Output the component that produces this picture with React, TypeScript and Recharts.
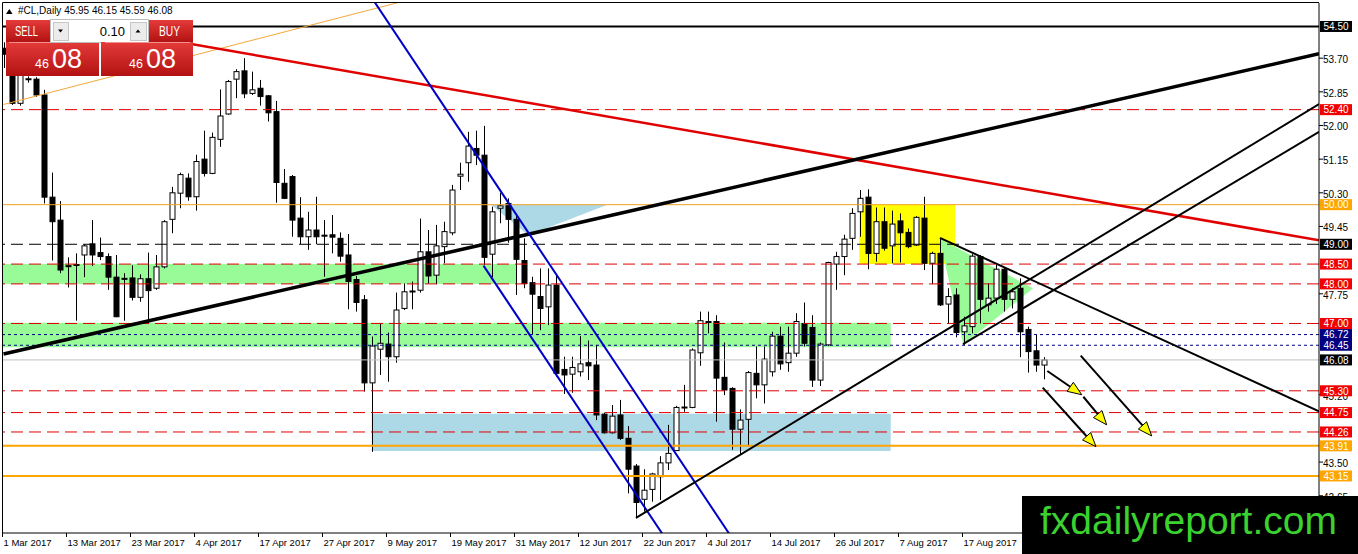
import React from 'react';
import { ComposedChart, Bar, XAxis, YAxis, ReferenceLine, ReferenceArea } from 'recharts';

const FONT = '"Liberation Sans", Arial, sans-serif';

// ---- daily candles, bar index 0 = 1 Mar 2017 ----
const OPEN = [
  53.95, 53.6, 52.56, 53.17, 53.17, 52.77, 50.19, 49.61, 48.44, 48.47,
  48.73, 49.01, 48.79, 48.69, 48.17, 48.14, 48.15, 47.66, 48.13, 47.89,
  48.43, 49.63, 50.29, 50.67, 50.2, 51.15, 50.79, 51.65, 52.29, 53.17,
  53.38, 52.81, 52.94, 52.75, 52.35, 50.54, 50.71, 49.66, 49.19, 49.36,
  49.23, 49.24, 49.15, 48.73, 48.11, 47.6, 45.5, 46.35, 46.48, 46.16,
  47.38, 47.8, 47.84, 48.81, 48.22, 48.94, 49.29, 50.72, 51.06, 51.42,
  51.25, 48.75, 49.91, 50.03, 49.63, 48.59, 48.03, 47.68, 47.42, 47.97,
  45.84, 45.72, 45.78, 46.01, 45.95, 44.71, 44.24, 44.69, 44.1, 43.4,
  42.56, 42.81, 43.13, 43.48, 43.79, 44.88, 44.88, 46.26, 47.04, 47.05,
  45.64, 45.36, 44.33, 44.58, 45.74, 45.45, 45.78, 46.68, 46.01, 46.25,
  47.0, 46.9, 45.57, 46.46, 48.5, 48.69, 49.15, 49.82, 50.19, 48.77,
  49.57, 48.96, 49.59, 49.3, 48.98, 49.66, 48.52, 48.77, 47.49, 47.72,
  46.79, 46.92, 48.69, 47.47, 47.64, 48.37, 47.61, 47.89, 46.85, 46.31,
  45.95,
];
const HIGH = [
  54.1, 53.75, 53.4, 53.24, 53.22, 52.9, 50.81, 50.09, 48.67, 48.77,
  49.0, 49.61, 49.17, 48.77, 48.73, 48.27, 48.47, 48.24, 48.79, 48.73,
  49.61, 50.45, 50.81, 50.79, 51.26, 51.87, 51.82, 52.91, 53.15, 53.42,
  53.7, 53.36, 53.15, 52.77, 52.62, 50.9, 50.75, 50.19, 49.82, 50.2,
  49.61, 49.74, 49.3, 49.26, 48.2, 47.72, 46.67, 47.0, 46.77, 47.78,
  48.01, 48.06, 49.65, 49.36, 49.49, 49.57, 50.5, 51.06, 51.84, 51.87,
  51.99, 49.95, 50.3, 50.16, 49.71, 49.15, 48.18, 48.39, 48.39, 48.2,
  46.16, 46.16, 46.68, 46.57, 46.46, 44.75, 44.94, 45.07, 44.41, 43.45,
  43.32, 43.23, 43.65, 44.44, 44.92, 45.45, 46.37, 47.3, 47.3, 47.21,
  46.52, 45.39, 44.83, 45.8, 46.42, 46.42, 46.79, 46.92, 46.92, 47.26,
  47.53, 47.21, 46.52, 48.56, 48.81, 49.24, 49.91, 50.37, 50.39, 49.93,
  49.93, 49.85, 49.78, 49.4, 49.71, 50.2, 48.81, 49.15, 47.89, 47.89,
  47.17, 48.75, 48.73, 48.01, 48.48, 48.42, 47.89, 48.14, 46.92, 46.71,
  46.15,
];
const LOW = [
  53.45, 52.52, 52.5, 53.08, 52.72, 50.03, 48.59, 48.27, 47.91, 47.07,
  48.17, 48.45, 48.6, 47.85, 47.16, 47.07, 47.58, 47.55, 47.0, 47.85,
  48.39, 49.28, 49.91, 50.1, 49.85, 50.71, 50.77, 51.46, 52.27, 52.69,
  52.69, 52.77, 52.5, 52.1, 50.05, 50.15, 49.19, 49.0, 48.86, 49.0,
  48.18, 48.77, 48.56, 47.36, 47.3, 45.28, 43.76, 45.7, 45.53, 46.01,
  47.34, 47.36, 47.78, 48.01, 47.99, 48.52, 49.23, 50.37, 50.58, 51.0,
  48.48, 48.17, 49.53, 49.04, 47.72, 47.89, 46.73, 46.83, 46.96, 45.66,
  45.22, 45.25, 45.66, 45.57, 44.56, 44.22, 44.22, 44.06, 42.71, 42.08,
  42.25, 42.5, 42.54, 43.3, 43.79, 44.77, 44.86, 45.93, 46.75, 44.52,
  45.19, 43.81, 43.68, 43.89, 45.11, 44.98, 45.66, 45.83, 45.78, 46.16,
  46.42, 45.4, 45.42, 46.43, 47.85, 48.22, 48.86, 49.19, 48.37, 48.56,
  48.84, 48.52, 48.54, 48.9, 48.96, 48.35, 47.99, 47.44, 46.99, 46.65,
  46.46, 46.75, 47.0, 47.3, 47.49, 47.3, 47.38, 46.15, 45.76, 45.78,
  45.59,
];
const CLOSE = [
  53.8, 52.56, 53.3, 53.18, 52.77, 50.19, 49.57, 48.35, 48.46, 48.49,
  48.96, 48.73, 48.69, 48.17, 47.17, 48.13, 47.66, 48.13, 47.83, 48.43,
  49.57, 50.3, 50.76, 50.2, 51.09, 50.79, 51.7, 52.24, 53.11, 53.36,
  52.8, 52.9, 52.73, 52.32, 50.56, 50.16, 49.61, 49.19, 49.36, 49.19,
  49.21, 49.18, 48.7, 48.06, 47.53, 45.5, 46.43, 46.5, 46.16, 47.34,
  47.8, 47.82, 48.81, 48.2, 48.96, 49.32, 50.37, 50.77, 51.48, 51.25,
  48.67, 49.82, 49.97, 49.63, 48.62, 48.01, 47.74, 47.38, 47.97, 45.74,
  45.7, 45.89, 45.98, 45.93, 44.69, 44.24, 44.66, 44.1, 43.32, 42.48,
  42.79, 43.2, 43.48, 43.72, 44.88, 44.89, 46.33, 47.07, 47.05, 45.62,
  45.32, 44.33, 44.56, 45.76, 45.45, 46.1, 46.68, 45.98, 46.25, 47.05,
  46.5, 45.57, 46.48, 48.54, 48.69, 49.13, 49.78, 50.16, 48.77, 49.57,
  48.9, 49.51, 49.29, 48.94, 49.68, 48.52, 48.77, 47.47, 47.68, 46.77,
  46.94, 48.7, 47.61, 47.64, 48.37, 47.61, 47.8, 46.79, 46.29, 45.95,
  46.08,
];

const DATE_TICKS = [0, 8, 16, 24, 32, 40, 48, 56, 64, 72, 80, 88, 96, 104, 112, 120];
const DATE_LABELS = [
  '1 Mar 2017', '13 Mar 2017', '23 Mar 2017', '4 Apr 2017', '17 Apr 2017', '27 Apr 2017',
  '9 May 2017', '19 May 2017', '31 May 2017', '12 Jun 2017', '22 Jun 2017', '4 Jul 2017',
  '14 Jul 2017', '26 Jul 2017', '7 Aug 2017', '17 Aug 2017',
];
// visible (unboxed) price-scale labels
const PRICE_TICKS = [53.7, 52.85, 52.0, 51.15, 50.3, 49.45, 47.75, 45.2, 43.5, 42.65];

// horizontal levels
const RED_LEVELS = [52.4, 48.5, 48.0, 47.0, 45.3, 44.75, 44.26];
const GOLD_THIN_LEVELS = [50.0];
const GOLD_LEVELS = [43.91, 43.15];
const BLACK_LEVELS = [54.5];
const BLACK_DASH_LEVELS = [49.0];
const NAVY_LEVELS = [46.72, 46.45];
const LAST_PRICE = [46.08];

// zones [bar1, bar2, price1, price2]
const GREEN_ZONES = [[-0.0625, 64.1, 48.0, 48.5], [-0.0625, 110.9, 46.4, 47.02]];
const BLUE_ZONES = [[46.03, 110.9, 43.78, 44.72]];
const YELLOW_ZONES = [[106.97, 118.94, 48.5, 50.0]];
const BLUE_TRIANGLE = [[61.0, 49.99], [75.4, 49.99], [65.6, 49.23]];
const GREEN_TRIANGLE = [[116.98, 49.15], [119.98, 46.46], [128.7, 47.89]];

// trend lines [[bar, price], [bar, price]]
const THICK_TREND = [[0, 46.23], [164.44, 53.81]];
const RED_TREND = [[15, 54.354], [164.44, 49.1]];
const GOLD_TREND = [[0, 52.53], [55, 55.4]];
const BLUE_CHANNEL = [
  [[44, 55.84], [92, 41.3]],
  [[60, 48.46], [84, 41.19]],
];
const BLACK_TRENDS = [
  [[79.06, 42.09], [164.44, 52.54]],
  [[119.94, 46.48], [164.44, 51.84]],
  [[117.06, 49.16], [164.44, 44.78]],
];
const ARROWS = [
  [[130.48, 45.8], [134.78, 45.2]],
  [[134.98, 45.15], [137.9, 44.44]],
  [[129.9, 45.38], [136.56, 43.89]],
  [[134.65, 46.19], [143.53, 44.16]],
];

const candles = OPEN.map((o, k) => ({ k, o, h: HIGH[k], l: LOW[k], c: CLOSE[k] }));

const boxColor = (v: number): string | null => {
  const has = (arr: number[]) => arr.some((a) => Math.abs(a - v) < 1e-6);
  if (has(RED_LEVELS)) return '#f00000';
  if (has(GOLD_LEVELS) || has(GOLD_THIN_LEVELS)) return '#ffa500';
  if (has(NAVY_LEVELS)) return '#000080';
  if (has(BLACK_LEVELS) || has(BLACK_DASH_LEVELS) || has(LAST_PRICE)) return '#000000';
  return null;
};
const ALL_Y_TICKS = [
  ...PRICE_TICKS,
  ...BLACK_LEVELS, ...RED_LEVELS, ...GOLD_THIN_LEVELS, ...BLACK_DASH_LEVELS,
  ...NAVY_LEVELS, ...LAST_PRICE, ...GOLD_LEVELS,
];

const Candle = (props: any) => {
  const { x, y, width, height, payload } = props;
  if (!payload || x == null || y == null) return null;
  const { o, h, l, c } = payload;
  const top = Math.min(y, y + height);
  const hh = Math.abs(height);
  const span = h - l || 1e-6;
  const py = (v: number) => top + ((h - v) / span) * hh;
  const cx = Math.round(x + width / 2) + 0.5;
  const yo = py(o);
  const yc = py(c);
  const bull = c >= o;
  const bt = Math.min(yo, yc);
  const bh = Math.max(Math.abs(yc - yo), 1);
  return (
    <g>
      <line x1={cx} x2={cx} y1={top} y2={top + hh} stroke="#000" strokeWidth={1} />
      <rect x={cx - 2.5} y={bt} width={5} height={bh} fill={bull ? '#fff' : '#000'} stroke="#000" strokeWidth={1} />
    </g>
  );
};

const polygonShape = (verts: number[][], fill: string) => (props: any) => {
  const { x, y, width, height } = props;
  const ks = verts.map((v) => v[0]);
  const ps = verts.map((v) => v[1]);
  const kmin = Math.min(...ks), kmax = Math.max(...ks);
  const pmin = Math.min(...ps), pmax = Math.max(...ps);
  const pts = verts
    .map((v) => {
      const px = x + ((v[0] - kmin) / (kmax - kmin)) * width;
      const py = y + ((pmax - v[1]) / (pmax - pmin)) * height;
      return `${px},${py}`;
    })
    .join(' ');
  return <polygon points={pts} fill={fill} stroke="none" />;
};

const arrowShape = (props: any) => {
  const { x1, y1, x2, y2 } = props;
  const dx = x2 - x1, dy = y2 - y1;
  const len = Math.hypot(dx, dy) || 1;
  const ux = dx / len, uy = dy / len;
  const L = 14, W = 5.5;
  const bx = x2 - ux * L, by = y2 - uy * L;
  const pts = `${x2},${y2} ${bx - uy * W},${by + ux * W} ${bx + uy * W},${by - ux * W}`;
  return (
    <g>
      <line x1={x1} y1={y1} x2={bx} y2={by} stroke="#000" strokeWidth={2} />
      <polygon points={pts} fill="#ffff00" stroke="#000" strokeWidth={1} />
    </g>
  );
};

const DateTick = (props: any) => {
  const { x, y, payload } = props;
  const i = DATE_TICKS.indexOf(payload.value);
  return (
    <g>
      <line x1={x - 1} x2={x - 1} y1={y} y2={y + 4} stroke="#000" />
      <text x={x} y={y + 12.5} fontFamily={FONT} fontSize={9.5} fill="#000">
        {DATE_LABELS[i]}
      </text>
    </g>
  );
};

const PriceTick = (props: any) => {
  const { x, y, payload } = props;
  const v = payload.value as number;
  const bg = boxColor(v);
  if (bg) {
    return (
      <g>
        <rect x={x + 1} y={y - 5.5} width={32} height={11} fill={bg} />
        <text x={x + 4.5} y={y + 3.8} fontFamily={FONT} fontSize={10} fill="#fff">
          {v.toFixed(2)}
        </text>
      </g>
    );
  }
  return (
    <g>
      <line x1={x} x2={x + 4} y1={y} y2={y} stroke="#000" />
      <text x={x + 4} y={y + 5} fontFamily={FONT} fontSize={10} fill="#000">
        {v.toFixed(2)}
      </text>
    </g>
  );
};

const seg = (s: number[][]) => [
  { x: s[0][0], y: s[0][1] },
  { x: s[1][0], y: s[1][1] },
];

const Overlay = () => (
  <svg width={1358} height={554} style={{ position: 'absolute', left: 0, top: 0 }}>
    <defs>
      <linearGradient id="redG" x1="0" y1="0" x2="0" y2="1">
        <stop offset="0" stopColor="#e43a3a" />
        <stop offset="1" stopColor="#b31212" />
      </linearGradient>
    </defs>
    <line x1={2.5} y1={2.5} x2={2.5} y2={533} stroke="#000" />
    <line x1={2.5} y1={2.5} x2={1319} y2={2.5} stroke="#000" />
    <polygon points="6,14 9.3,9 12.6,14" fill="#000" />
    <text x={18} y={14} fontFamily={FONT} fontSize={10} fill="#000">
      #CL,Daily 45.95 46.15 45.59 46.08
    </text>
    {/* SELL */}
    <rect x={6} y={20} width={44} height={22} fill="url(#redG)" />
    <rect x={6} y={42} width={93} height={34} fill="url(#redG)" />
    <line x1={9} x2={96} y1={42.5} y2={42.5} stroke="#f09090" />
    <text x={15} y={36} fontFamily={FONT} fontSize={14} fill="#fff" textLength={23} lengthAdjust="spacingAndGlyphs">SELL</text>
    <text x={35} y={68} fontFamily={FONT} fontSize={12.5} fill="#fff">46</text>
    <text x={52} y={68} fontFamily={FONT} fontSize={27} fill="#fff">08</text>
    {/* spinner */}
    <rect x={50.5} y={19.5} width={98} height={23} fill="#fff" stroke="#bdbdbd" />
    <rect x={53.5} y={22.5} width={15} height={18} fill="#ececec" stroke="#c6c6c6" />
    <polygon points="58,29.5 63,29.5 60.5,32.5" fill="#000" />
    <rect x={130.5} y={22.5} width={16} height={18} fill="#ececec" stroke="#c6c6c6" />
    <polygon points="135.5,32.5 140.5,32.5 138,29.5" fill="#000" />
    <text x={125} y={36} textAnchor="end" fontFamily={FONT} fontSize={13} fill="#000">0.10</text>
    {/* BUY */}
    <rect x={149} y={20} width={44} height={22} fill="url(#redG)" />
    <rect x={101} y={42} width={92} height={34} fill="url(#redG)" />
    <line x1={105} x2={190} y1={42.5} y2={42.5} stroke="#f09090" />
    <text x={159} y={36} fontFamily={FONT} fontSize={14} fill="#fff" textLength={21} lengthAdjust="spacingAndGlyphs">BUY</text>
    <text x={129} y={68} fontFamily={FONT} fontSize={12.5} fill="#fff">46</text>
    <text x={146} y={68} fontFamily={FONT} fontSize={27} fill="#fff">08</text>
    {/* watermark */}
    <rect x={1022} y={496} width={336} height={58} fill="#000" />
    <text x={1040} y={534} fontFamily={FONT} fontSize={39} fill="#3bd12f">fxdailyreport.com</text>
  </svg>
);

export default function App() {
  return (
    <div style={{ position: 'absolute', left: 0, top: 0, width: 1358, height: 554, background: '#fff', overflow: 'hidden' }}>
      <ComposedChart width={1358} height={554} data={candles} margin={{ top: 3, right: 0, bottom: 0, left: 3 }}>
        {GREEN_ZONES.map((z, i) => (
          <ReferenceArea key={'g' + i} x1={z[0]} x2={z[1]} y1={z[2]} y2={z[3]} fill="#98fb98" fillOpacity={1} stroke="none" ifOverflow="hidden" />
        ))}
        {BLUE_ZONES.map((z, i) => (
          <ReferenceArea key={'b' + i} x1={z[0]} x2={z[1]} y1={z[2]} y2={z[3]} fill="#add8e6" fillOpacity={1} stroke="none" />
        ))}
        {YELLOW_ZONES.map((z, i) => (
          <ReferenceArea key={'y' + i} x1={z[0]} x2={z[1]} y1={z[2]} y2={z[3]} fill="#ffff00" fillOpacity={1} stroke="none" />
        ))}
        <ReferenceArea
          x1={Math.min(...BLUE_TRIANGLE.map((v) => v[0]))}
          x2={Math.max(...BLUE_TRIANGLE.map((v) => v[0]))}
          y1={Math.min(...BLUE_TRIANGLE.map((v) => v[1]))}
          y2={Math.max(...BLUE_TRIANGLE.map((v) => v[1]))}
          shape={polygonShape(BLUE_TRIANGLE, '#add8e6')}
        />
        <ReferenceArea
          x1={Math.min(...GREEN_TRIANGLE.map((v) => v[0]))}
          x2={Math.max(...GREEN_TRIANGLE.map((v) => v[0]))}
          y1={Math.min(...GREEN_TRIANGLE.map((v) => v[1]))}
          y2={Math.max(...GREEN_TRIANGLE.map((v) => v[1]))}
          shape={polygonShape(GREEN_TRIANGLE, '#98fb98')}
        />

        <Bar dataKey={(d: any) => [d.l, d.h]} barSize={6} shape={Candle} isAnimationActive={false} />

        {RED_LEVELS.map((p) => (
          <ReferenceLine key={'r' + p} y={p} stroke="#e00000" strokeWidth={1} strokeDasharray="12 6" />
        ))}
        {GOLD_THIN_LEVELS.map((p) => (
          <ReferenceLine key={'gt' + p} y={p} stroke="#f0a020" strokeWidth={1} />
        ))}
        {GOLD_LEVELS.map((p) => (
          <ReferenceLine key={'gl' + p} y={p} stroke="#ffa500" strokeWidth={2} />
        ))}
        {BLACK_LEVELS.map((p) => (
          <ReferenceLine key={'bl' + p} y={p} stroke="#000" strokeWidth={2} />
        ))}
        {BLACK_DASH_LEVELS.map((p) => (
          <ReferenceLine key={'bd' + p} y={p} stroke="#000" strokeWidth={1} strokeDasharray="12 6" />
        ))}
        {NAVY_LEVELS.map((p) => (
          <ReferenceLine key={'n' + p} y={p} stroke="#000080" strokeWidth={1} strokeDasharray="3 3" />
        ))}
        {LAST_PRICE.map((p) => (
          <ReferenceLine key={'lp' + p} y={p} stroke="#c0c0c0" strokeWidth={1} />
        ))}

        <ReferenceLine segment={seg(GOLD_TREND)} stroke="#f2a93b" strokeWidth={1} ifOverflow="hidden" />
        <ReferenceLine segment={seg(RED_TREND)} stroke="#e00000" strokeWidth={2.5} ifOverflow="hidden" />
        <ReferenceLine segment={seg(THICK_TREND)} stroke="#000" strokeWidth={3.5} ifOverflow="hidden" />
        {BLUE_CHANNEL.map((s, i) => (
          <ReferenceLine key={'bc' + i} segment={seg(s)} stroke="#0000c8" strokeWidth={2} ifOverflow="hidden" />
        ))}
        {BLACK_TRENDS.map((s, i) => (
          <ReferenceLine key={'bt' + i} segment={seg(s)} stroke="#000" strokeWidth={2} ifOverflow="hidden" />
        ))}
        {ARROWS.map((s, i) => (
          <ReferenceLine key={'ar' + i} segment={seg(s)} shape={arrowShape} ifOverflow="hidden" />
        ))}

        <XAxis
          type="number"
          dataKey="k"
          domain={[-0.0625, 164.4375]}
          allowDataOverflow
          ticks={DATE_TICKS}
          interval={0}
          tick={<DateTick />}
          tickLine={false}
          tickSize={0}
          tickMargin={0}
          axisLine={{ stroke: '#000' }}
          height={21}
        />
        <YAxis
          type="number"
          orientation="right"
          domain={[41.709, 55.093]}
          allowDataOverflow
          ticks={ALL_Y_TICKS}
          interval={0}
          tick={<PriceTick />}
          tickLine={false}
          tickSize={0}
          tickMargin={0}
          axisLine={{ stroke: '#000' }}
          width={39}
        />
      </ComposedChart>
      <Overlay />
    </div>
  );
}
